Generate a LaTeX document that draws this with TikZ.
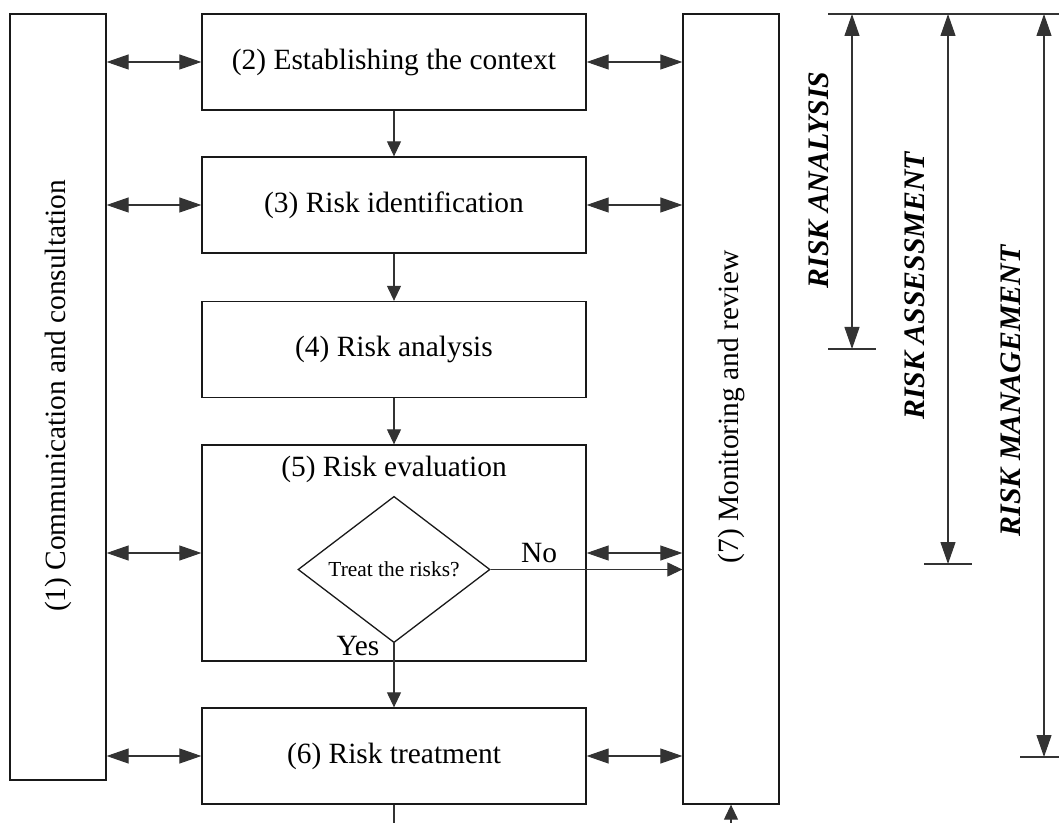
\documentclass[tikz,border=0pt]{standalone}
\usepackage{fontspec}
\setmainfont{Liberation Serif}
\usetikzlibrary{arrows.meta,shapes.geometric}

\begin{document}
\begin{tikzpicture}[x=0.5pt,y=-0.5pt,
  bigtip/.tip={Triangle[length=11pt,width=7.5pt]},
  smalltip/.tip={Triangle[length=7.5pt,width=7pt]},
  box/.style={draw=black!90,line width=0.65pt,rectangle,inner sep=0pt},
  stagebox/.style={box,minimum width=192pt,minimum height=48pt},
  conn/.style={draw=black!80,fill=black!90,line width=0.55pt},
  dbl/.style={conn,bigtip-bigtip},
  down/.style={conn,-smalltip},
  span/.style={conn,bigtip-bigtip},
  tick/.style={draw=black!80,line width=0.6pt},
  txt/.style={font=\fontsize{14.7}{17}\selectfont,inner sep=0pt},
  bigtxt/.style={font=\fontsize{14.9}{17}\selectfont\bfseries\itshape,inner sep=0pt,rotate=90}
]
\useasboundingbox (0,0) rectangle (1059,823);

% side columns
\node[box,minimum width=48pt,minimum height=383pt] (comm) at (58,397) {};
\node[txt,rotate=90] (commtxt) at (58,396) {(1) Communication and consultation};
\node[box,minimum width=48pt,minimum height=395pt] (mon) at (731,409) {};
\node[txt,rotate=90] (montxt) at (731,407) {(7) Monitoring and review};

% process stages
\node[stagebox] (ctx) at (394,62) {};
\node[txt] (ctxtxt) at (394,62) {(2) Establishing the context};
\node[stagebox] (ident) at (394,205) {};
\node[txt] (identtxt) at (394,205) {(3) Risk identification};
\node[stagebox] (anal) at (394,349.5) {};
\node[txt] (analtxt) at (394,349.5) {(4) Risk analysis};
\node[stagebox,minimum height=108pt] (eval) at (394,553) {};
\node[txt] (evaltxt) at (394,469) {(5) Risk evaluation};
\node[box,shape=diamond,minimum width=96pt,minimum height=71.5pt,
      font=\fontsize{10.7}{12}\selectfont] (treat) at (394,569.5) {Treat the risks?};
\node[stagebox] (treatm) at (394,756) {};
\node[txt] (treatmtxt) at (394,756) {(6) Risk treatment};

% flow between stages
\draw[down] (ctx.south) -- (ident.north);
\draw[down] (ident.south) -- (anal.north);
\draw[down] (anal.south) -- (eval.north);
\draw[down] (treat.south) -- (treatm.north);
\draw[down] (treat.east) -- (mon.west |- treat.east);
\node[txt] (nolbl) at (539,553) {No};
\node[txt] (yeslbl) at (358,646) {Yes};

% communication and monitoring links
\foreach \s in {ctx,ident,eval,treatm}{
  \draw[dbl] (comm.east |- \s.west) -- (\s.west);
  \draw[dbl] (\s.east) -- (mon.west |- \s.east);
}

% continuation below
\coordinate (outdown) at (394,823);
\coordinate (inup) at (731,823);
\draw[conn] (treatm.south) -- (outdown);
\draw[down] (inup) -- (mon.south);

% scope brackets
\coordinate (topL) at (828,14);
\coordinate (topR) at (1059,14);
\draw[tick] (topL) -- (topR);

\coordinate (a1) at (852,14);
\coordinate (a2) at (852,349);
\coordinate (a2l) at (828,349);
\coordinate (a2r) at (876,349);
\draw[span] (a1) -- (a2);
\draw[tick] (a2l) -- (a2r);
\node[bigtxt] (ranal) at (819,180) {RISK ANALYSIS};

\coordinate (s1) at (948,14);
\coordinate (s2) at (948,564);
\coordinate (s2l) at (924,564);
\coordinate (s2r) at (972,564);
\draw[span] (s1) -- (s2);
\draw[tick] (s2l) -- (s2r);
\node[bigtxt] (rass) at (915,286) {RISK ASSESSMENT};

\coordinate (m1) at (1044,14);
\coordinate (m2) at (1044,757);
\coordinate (m2l) at (1020,757);
\coordinate (m2r) at (1059,757);
\draw[span] (m1) -- (m2);
\draw[tick] (m2l) -- (m2r);
\node[bigtxt] (rman) at (1011,391) {RISK MANAGEMENT};
\end{tikzpicture}
\end{document}
